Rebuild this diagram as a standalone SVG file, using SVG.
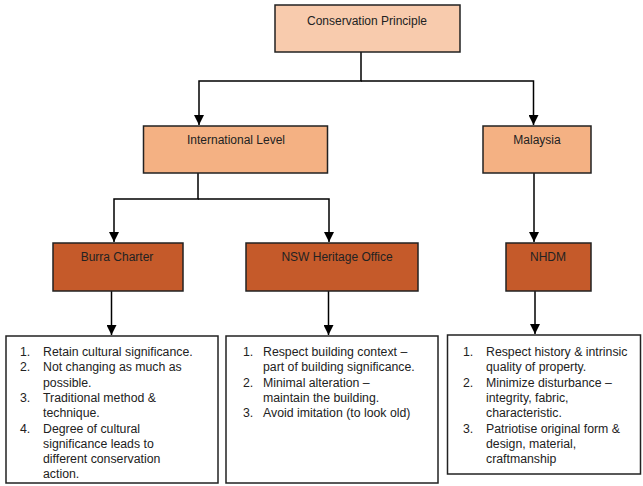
<svg xmlns="http://www.w3.org/2000/svg" width="643" height="486" viewBox="0 0 643 486">
<style>
.box{stroke:#222;stroke-width:1.5}
.l1{fill:#F8CBAD}
.l2{fill:#F4B183}
.l3{fill:#C55A2A}
.lst{fill:#fff}
text{font-family:"Liberation Sans",Arial,sans-serif;font-size:12px;fill:#222}
.c{text-anchor:middle}
.li text{font-size:12.3px}
.con{stroke:#000;stroke-width:1.5;fill:none}
</style>
<defs>
<marker id="ah" viewBox="0 0 10 10" refX="10" refY="5" markerWidth="10" markerHeight="10" markerUnits="userSpaceOnUse" orient="auto">
<path d="M0,0 L10,5 L0,10 z" fill="#000"/>
</marker>
</defs>
<rect width="643" height="486" fill="#fff"/>
<g id="connectors">
<path class="con" d="M361,52 V81 H199 V125" marker-end="url(#ah)"/>
<path class="con" d="M361,81 H533.5 V125" marker-end="url(#ah)"/>
<path class="con" d="M198,173 V199 H114 V242" marker-end="url(#ah)"/>
<path class="con" d="M198,199 H329 V242" marker-end="url(#ah)"/>
<path class="con" d="M534,173 V242" marker-end="url(#ah)"/>
<path class="con" d="M111.5,291 V335" marker-end="url(#ah)"/>
<path class="con" d="M328.5,291 V335" marker-end="url(#ah)"/>
<path class="con" d="M535,291 V334" marker-end="url(#ah)"/>
</g>
<g id="conservation-principle">
<rect class="box l1" x="275" y="5" width="185" height="47"/>
<text class="c" x="367" y="25">Conservation Principle</text>
</g>
<g id="international-level">
<rect class="box l2" x="143.5" y="126" width="184" height="47"/>
<text class="c" x="236" y="144">International Level</text>
</g>
<g id="malaysia">
<rect class="box l2" x="483" y="126" width="108" height="47"/>
<text class="c" x="537" y="144">Malaysia</text>
</g>
<g id="burra-charter">
<rect class="box l3" x="53" y="243" width="130" height="48"/>
<text class="c" x="117" y="261">Burra Charter</text>
</g>
<g id="nsw-heritage-office">
<rect class="box l3" x="246" y="243" width="172" height="48"/>
<text class="c" x="337" y="261">NSW Heritage Office</text>
</g>
<g id="nhdm">
<rect class="box l3" x="506" y="243" width="85" height="48"/>
<text class="c" x="548" y="261">NHDM</text>
</g>
<g id="burra-list" class="li">
<rect class="box lst" x="6" y="336" width="212" height="147"/>
<text x="20" y="356">1.</text><text x="43" y="356">Retain cultural significance.</text>
<text x="20" y="371.3">2.</text><text x="43" y="371.3">Not changing as much as</text>
<text x="43" y="386.6">possible.</text>
<text x="20" y="401.9">3.</text><text x="43" y="401.9">Traditional method &amp;</text>
<text x="43" y="417.2">technique.</text>
<text x="20" y="432.5">4.</text><text x="43" y="432.5">Degree of cultural</text>
<text x="43" y="447.8">significance leads to</text>
<text x="43" y="463.1">different conservation</text>
<text x="43" y="478.4">action.</text>
</g>
<g id="nsw-list" class="li">
<rect class="box lst" x="226" y="336" width="212" height="147"/>
<text x="243" y="356">1.</text><text x="263" y="356">Respect building context –</text>
<text x="263" y="371.3">part of building significance.</text>
<text x="243" y="386.6">2.</text><text x="263" y="386.6">Minimal alteration –</text>
<text x="263" y="401.9">maintain the building.</text>
<text x="243" y="417.2">3.</text><text x="263" y="417.2">Avoid imitation (to look old)</text>
</g>
<g id="nhdm-list" class="li">
<rect class="box lst" x="447.5" y="335" width="193" height="139"/>
<text x="463" y="356">1.</text><text x="486" y="356">Respect history &amp; intrinsic</text>
<text x="486" y="371.3">quality of property.</text>
<text x="463" y="386.6">2.</text><text x="486" y="386.6">Minimize disturbance –</text>
<text x="486" y="401.9">integrity, fabric,</text>
<text x="486" y="417.2">characteristic.</text>
<text x="463" y="432.5">3.</text><text x="486" y="432.5">Patriotise original form &amp;</text>
<text x="486" y="447.8">design, material,</text>
<text x="486" y="463.1">craftmanship</text>
</g>
</svg>
